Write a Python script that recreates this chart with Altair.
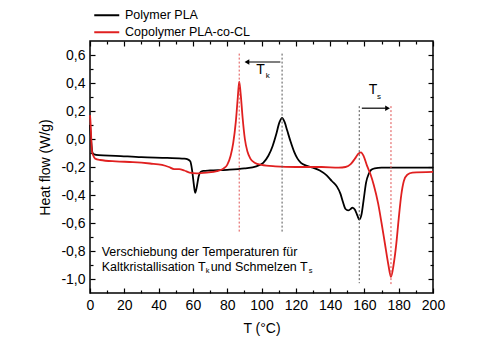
import altair as alt
import pandas as pd

F = "Liberation Sans"

# ---- data ----
pla_T = [0.0, 0.5, 1.0, 1.5, 2.5, 5, 15, 30, 45, 55, 57, 58.5, 59.5, 60.5, 61.3, 62.3, 63.3, 64.5,
         66, 70, 80, 90, 97, 101, 104, 106.5, 108.5, 110.5, 112, 113.5, 115, 117, 119, 121, 123,
         126, 130, 134, 138, 141, 144, 146, 147.5, 149, 150.5, 152, 153, 154.5, 156, 157, 158.3,
         159.5, 161, 162.5, 164, 166, 170, 185, 200]
pla_HF = [0.10, 0.02, -0.06, -0.10, -0.11, -0.115, -0.12, -0.13, -0.135, -0.14, -0.145, -0.16,
          -0.22, -0.32, -0.385, -0.34, -0.27, -0.235, -0.228, -0.225, -0.22, -0.21, -0.195, -0.17,
          -0.12, -0.05, 0.03, 0.12, 0.15, 0.12, 0.06, -0.02, -0.09, -0.14, -0.17, -0.19, -0.205,
          -0.225, -0.26, -0.30, -0.34, -0.39, -0.45, -0.50, -0.51, -0.50, -0.49, -0.505, -0.55,
          -0.575, -0.54, -0.44, -0.31, -0.25, -0.22, -0.21, -0.205, -0.205, -0.205]

co_T = [0.0, 0.4, 0.8, 1.2, 2, 3, 6, 15, 25, 35, 42, 46, 49, 52, 55, 58, 62, 68, 74, 78, 80, 82,
        83.5, 85, 86.2, 87, 87.8, 89, 90.3, 91.8, 93.5, 96, 100, 108, 120, 135, 145, 149, 152,
        154.5, 156.5, 158, 159.5, 161.5, 163.5, 165.5, 168, 170, 172, 174, 175.5, 177, 178.5,
        180, 181.5, 183, 185, 188, 200]
co_HF = [0.17, 0.10, -0.02, -0.09, -0.12, -0.14, -0.15, -0.16, -0.165, -0.175, -0.185, -0.20,
         -0.215, -0.215, -0.225, -0.24, -0.245, -0.24, -0.23, -0.21, -0.185, -0.12, -0.03, 0.12,
         0.30, 0.41, 0.33, 0.15, 0.0, -0.09, -0.14, -0.17, -0.185, -0.195, -0.20, -0.20, -0.205,
         -0.20, -0.18, -0.14, -0.105, -0.095, -0.12, -0.19, -0.25, -0.33, -0.46, -0.60, -0.75,
         -0.90, -0.985, -0.90, -0.76, -0.57, -0.40, -0.30, -0.255, -0.24, -0.235]

series = ["Polymer PLA", "Copolymer PLA-co-CL"]
colors = ["#000000", "#e02020"]

# marker lines (T positions, top and bottom ends)
mark_T = [87, 112, 157, 175.5]
mark_top = [0.61, 0.61, 0.235, 0.235]
mark_bot = [-0.67, -0.67, -1.03, -1.04]
mark_col = ["#e05050", "#555555", "#555555", "#e05050"]

# arrows
arr_x1 = [111, 158.5]
arr_x2 = [92.5, 172.5]
arr_y = [0.55, 0.22]
arr_head_T = [91.5, 173.5]
arr_shape = ["triangle-left", "triangle-right"]

x_major = list(range(0, 201, 20))
x_minor = list(range(10, 200, 20))
y_major = [-1.0, -0.8, -0.6, -0.4, -0.2, 0.0, 0.2, 0.4, 0.6]
y_minor = [-0.9, -0.7, -0.5, -0.3, -0.1, 0.1, 0.3, 0.5]

XD = [0, 200]
YD = [-1.1, 0.7]

df = pd.concat([
    pd.DataFrame({"T": pla_T, "HF": pla_HF, "s": series[0], "o": 0}),
    pd.DataFrame({"T": co_T, "HF": co_HF, "s": series[1], "o": 1}),
])
df_m = pd.DataFrame({"T": mark_T, "top": mark_top, "bot": mark_bot, "c": mark_col})
df_a = pd.DataFrame({"x1": arr_x1, "x2": arr_x2, "y": arr_y})
df_h = pd.DataFrame({"T": arr_head_T, "y": arr_y, "shape": arr_shape})

xs = alt.Scale(domain=XD, nice=False, zero=False)
ys = alt.Scale(domain=YD, nice=False, zero=False)

ylab = "replace(replace(format(datum.value, '.1f'), '.', ','), '\u2212', '-')"

def ax(orient, values, size, labels=False, **kw):
    base = dict(orient=orient, values=values, tickSize=size, offset=-size, domain=False,
                grid=False, ticks=True, tickColor="black", tickWidth=1.2, labels=labels)
    if not labels:
        base["title"] = None
    base.update(kw)
    return alt.Axis(**base)

x_bottom = ax("bottom", x_major, 5, labels=True, labelFont=F, labelFontSize=14,
              labelColor="black", labelPadding=5, labelFlush=False, labelOverlap=False,
              title="T (°C)", titleFont=F, titleFontSize=14, titleFontWeight="normal",
              titleColor="black", titlePadding=9)
y_left = ax("left", y_major, 5, labels=True, labelFont=F, labelFontSize=14,
            labelColor="black", labelPadding=5, labelExpr=ylab, labelOverlap=False,
            title="Heat flow (W/g)", titleFont=F, titleFontSize=14, titleFontWeight="normal",
            titleColor="black", titlePadding=8)

lines = alt.Chart(df).mark_line(strokeWidth=1.8, interpolate="monotone").encode(
    x=alt.X("T:Q", scale=xs, axis=x_bottom),
    y=alt.Y("HF:Q", scale=ys, axis=y_left),
    color=alt.Color("s:N", scale=alt.Scale(domain=series, range=colors),
                    legend=alt.Legend(orient="none", legendX=10.5, legendY=-32, title=None,
                                      symbolType="M-2.5,0H2.5", symbolSize=100,
                                      symbolStrokeWidth=2, labelFont=F, labelFontSize=12.5,
                                      labelColor="black", labelOffset=12, rowPadding=4,
                                      padding=0)),
    order="o:Q",
)

markers = alt.Chart(df_m).mark_rule(strokeWidth=1, strokeDash=[2, 2]).encode(
    x=alt.X("T:Q", scale=xs, axis=ax("bottom", x_minor, 3)),
    y=alt.Y("top:Q", scale=ys, axis=ax("left", y_minor, 3)),
    y2="bot:Q",
    color=alt.Color("c:N", scale=None),
)

shafts = alt.Chart(df_a).mark_rule(strokeWidth=1.2, color="black").encode(
    x=alt.X("x1:Q", scale=xs, axis=ax("top", x_major, 5)),
    x2="x2:Q",
    y=alt.Y("y:Q", scale=ys, axis=ax("right", y_major, 5)),
)

heads = alt.Chart(df_h).mark_point(filled=True, size=30, color="black", opacity=1).encode(
    x=alt.X("T:Q", scale=xs, axis=ax("top", x_minor, 3)),
    y=alt.Y("y:Q", scale=ys, axis=ax("right", y_minor, 3)),
    shape=alt.Shape("shape:N", scale=None),
)

def txt(T, HF, text, size, dx=0, dy=0, align="left"):
    d = pd.DataFrame({"T": [T], "HF": [HF], "t": [text]})
    return alt.Chart(d).mark_text(font=F, fontSize=size, align=align, baseline="middle",
                                  dx=dx, dy=dy, color="black").encode(
        x=alt.X("T:Q", scale=xs, axis=None),
        y=alt.Y("HF:Q", scale=ys, axis=None),
        text="t:N",
    )

labels = [
    txt(99.5, 0.49, "T", 14, align="center"),
    txt(99.5, 0.49, "k", 8, dx=5, dy=6),
    txt(165, 0.35, "T", 14, align="center"),
    txt(165, 0.35, "s", 8, dx=4, dy=7),
    txt(6.8, -0.807, "Verschiebung der Temperaturen für", 12.5),
    txt(6.8, -0.914, "Kaltkristallisation T", 12.5),
    txt(6.8, -0.914, "k", 7.5, dx=104, dy=4),
    txt(6.8, -0.914, "und Schmelzen T", 12.5, dx=109),
    txt(6.8, -0.914, "s", 7.5, dx=207, dy=4),
]

chart = alt.layer(lines, markers, shafts, heads, *labels).resolve_axis(
    x="independent", y="independent"
).properties(
    width=343, height=252,
    padding={"left": 90, "top": 41, "right": 71, "bottom": 59},
    autosize=alt.AutoSizeParams(type="none"),
    background="white",
).configure_view(stroke="black", strokeWidth=1.5)

chart.save("out.html", embed_options={"renderer": "svg", "actions": False})
